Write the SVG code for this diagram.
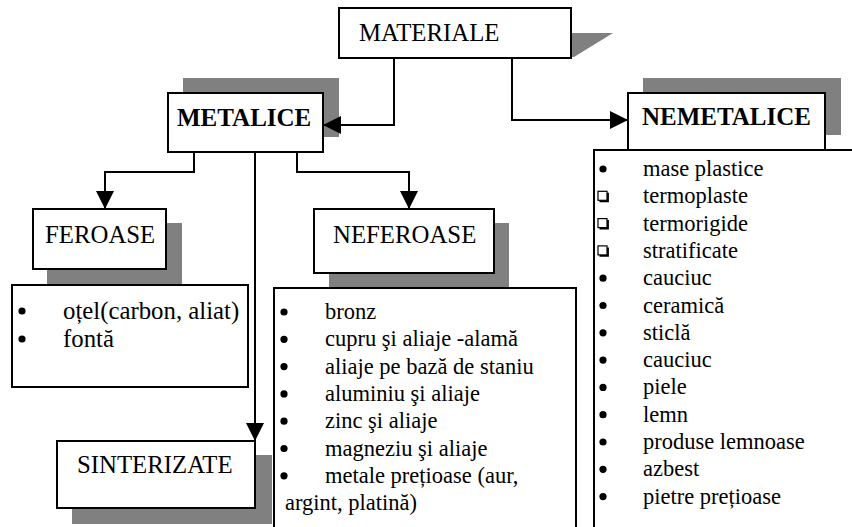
<svg xmlns="http://www.w3.org/2000/svg" width="852" height="527" viewBox="0 0 852 527">
  <style>
    .box { fill: #ffffff; stroke: #000000; stroke-width: 2; }
    .shadow { fill: #808080; stroke: none; }
    text { font-family: "Liberation Serif", "Times New Roman", serif; fill: #000000; }
    .title { font-size: 24.8px; }
    .bold { font-weight: bold; font-size: 25px; }
    .item { font-size: 22.5px; }
    .item-lg { font-size: 24.8px; }
    .wire { fill: none; stroke: #000000; stroke-width: 2; }
  </style>
  <defs>
    <marker id="arrow" viewBox="0 0 18 18" refX="18" refY="9" markerWidth="18" markerHeight="18" markerUnits="userSpaceOnUse" orient="auto">
      <path d="M0,0 L18,9 L0,18 Z" fill="#000000"/>
    </marker>
    <circle id="dot" r="3.6" fill="#000000"/>
    <g id="sq">
      <rect x="0" y="0" width="9" height="9" fill="#ffffff" stroke="#000000" stroke-width="1.2"/>
      <path d="M1.5,10 H10 V1.5" fill="none" stroke="#000000" stroke-width="1.8"/>
    </g>
  </defs>

  <!-- root -->
  <g id="materiale">
    <polygon class="shadow" points="571,33 613,33 574,57 571,57"/>
    <rect class="box" x="339" y="8" width="232" height="50"/>
    <text class="title" x="359" y="41">MATERIALE</text>
  </g>

  <g id="metalice">
    <rect class="shadow" x="183" y="78" width="156" height="59"/>
    <rect class="box" x="168" y="93" width="155" height="59"/>
    <text class="title bold" x="177" y="126">METALICE</text>
  </g>

  <g id="nemetalice">
    <rect class="shadow" x="643" y="78" width="198" height="57"/>
    <rect class="box" x="628" y="93" width="197" height="57"/>
    <text class="title bold" x="642" y="125">NEMETALICE</text>
  </g>

  <g id="feroase">
    <rect class="shadow" x="47" y="223" width="135" height="62"/>
    <rect class="box" x="33" y="209" width="133" height="60"/>
    <text class="title" x="45" y="243">FEROASE</text>
  </g>

  <g id="neferoase">
    <rect class="shadow" x="329" y="223" width="180" height="64"/>
    <rect class="box" x="314" y="209" width="180" height="64"/>
    <text class="title" x="333" y="243">NEFEROASE</text>
  </g>

  <g id="sinterizate">
    <rect class="shadow" x="72" y="455" width="200" height="69"/>
    <rect class="box" x="57" y="441" width="198" height="67"/>
    <text class="title" x="77" y="473">SINTERIZATE</text>
  </g>

  <!-- ferrous list -->
  <g id="lista-feroase">
    <rect class="box" x="12" y="285" width="236" height="102"/>
    <use href="#dot" x="22" y="311"/>
    <use href="#dot" x="22" y="339"/>
    <text class="item-lg" x="63" y="319">oțel(carbon, aliat)</text>
    <text class="item-lg" x="63" y="347">fontă</text>
  </g>

  <!-- non-ferrous list -->
  <g id="lista-neferoase">
    <rect class="box" x="274" y="288" width="302" height="260"/>
    <use href="#dot" x="284" y="312"/>
    <use href="#dot" x="284" y="339.3"/>
    <use href="#dot" x="284" y="366.6"/>
    <use href="#dot" x="284" y="393.9"/>
    <use href="#dot" x="284" y="421.2"/>
    <use href="#dot" x="284" y="448.5"/>
    <use href="#dot" x="284" y="475.8"/>
    <text class="item" x="325" y="319">bronz</text>
    <text class="item" x="325" y="346.3">cupru şi aliaje -alamă</text>
    <text class="item" x="325" y="373.6">aliaje pe bază de staniu</text>
    <text class="item" x="325" y="400.9">aluminiu şi aliaje</text>
    <text class="item" x="325" y="428.2">zinc şi aliaje</text>
    <text class="item" x="325" y="455.5">magneziu şi aliaje</text>
    <text class="item" x="325" y="482.8">metale prețioase (aur,</text>
    <text class="item" x="285" y="510.1">argint, platină)</text>
  </g>

  <!-- non-metallic list -->
  <g id="lista-nemetalice">
    <rect class="box" x="594" y="150" width="300" height="400"/>
    <use href="#dot" x="603" y="169"/>
    <use href="#sq" x="598" y="191.3"/>
    <use href="#sq" x="598" y="218.6"/>
    <use href="#sq" x="598" y="245.9"/>
    <use href="#dot" x="603" y="278.2"/>
    <use href="#dot" x="603" y="305.5"/>
    <use href="#dot" x="603" y="332.8"/>
    <use href="#dot" x="603" y="360.1"/>
    <use href="#dot" x="603" y="387.4"/>
    <use href="#dot" x="603" y="414.7"/>
    <use href="#dot" x="603" y="442"/>
    <use href="#dot" x="603" y="469.3"/>
    <use href="#dot" x="603" y="496.6"/>
    <text class="item" x="643" y="176">mase plastice</text>
    <text class="item" x="643" y="203.3">termoplaste</text>
    <text class="item" x="643" y="230.6">termorigide</text>
    <text class="item" x="643" y="257.9">stratificate</text>
    <text class="item" x="643" y="285.2">cauciuc</text>
    <text class="item" x="643" y="312.5">ceramică</text>
    <text class="item" x="643" y="339.8">sticlă</text>
    <text class="item" x="643" y="367.1">cauciuc</text>
    <text class="item" x="643" y="394.4">piele</text>
    <text class="item" x="643" y="421.7">lemn</text>
    <text class="item" x="643" y="449">produse lemnoase</text>
    <text class="item" x="643" y="476.3">azbest</text>
    <text class="item" x="643" y="503.6">pietre prețioase</text>
  </g>

  <!-- connectors -->
  <g id="connectors">
    <polyline class="wire" points="394,58 394,125 323,125" marker-end="url(#arrow)"/>
    <polyline class="wire" points="512,58 512,120 628,120" marker-end="url(#arrow)"/>
    <polyline class="wire" points="194,152 194,172 105,172 105,209" marker-end="url(#arrow)"/>
    <polyline class="wire" points="297,152 297,172 409,172 409,209" marker-end="url(#arrow)"/>
    <polyline class="wire" points="255,152 255,441" marker-end="url(#arrow)"/>
  </g>
</svg>
